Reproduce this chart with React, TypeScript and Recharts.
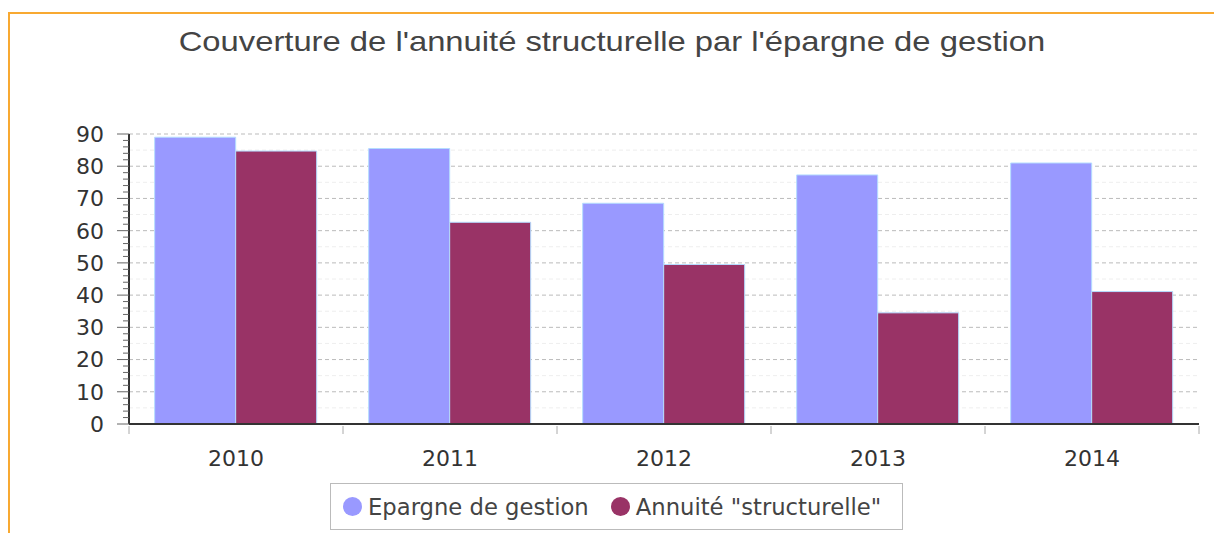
import React from 'react';
import {
  BarChart,
  Bar,
  XAxis,
  YAxis,
  CartesianGrid,
  Legend,
} from 'recharts';

const years = ['2010', '2011', '2012', '2013', '2014'];
const epargne = [89, 85.5, 68.5, 77.3, 81];
const annuite = [84.7, 62.6, 49.5, 34.5, 41.1];

const majorTicks = [0, 10, 20, 30, 40, 50, 60, 70, 80, 90];
const halfTicks = [5, 15, 25, 35, 45, 55, 65, 75, 85];
const minorTicks = Array.from({ length: 46 }, (_, i) => i * 2);

const BLUE = '#9999ff';
const PURPLE = '#993366';
const FONT = '"DejaVu Sans", Verdana, sans-serif';

const data = years.map((year, i) => ({
  year,
  epargne: epargne[i],
  annuite: annuite[i],
}));

function YTick(props: any) {
  const { x, y, payload } = props;
  const isMajor = payload.value % 10 === 0;
  return (
    <g>
      <line x1={x - (isMajor ? 12 : 6)} x2={x} y1={y} y2={y} stroke="#666" strokeWidth={1} />
      {isMajor && (
        <text x={x - 25} y={y} dy="0.36em" textAnchor="end" fill="#333" fontSize={22} fontFamily={FONT}>
          {payload.value}
        </text>
      )}
    </g>
  );
}

function XTick(props: any) {
  const { x, y, payload, index } = props;
  const half = payload.offset ?? 107;
  const last = index === years.length - 1;
  return (
    <g>
      <line x1={x - half} x2={x - half} y1={y + 2} y2={y + 10} stroke="#aaa" strokeWidth={1} />
      {last && <line x1={x + half} x2={x + half} y1={y + 2} y2={y + 10} stroke="#aaa" strokeWidth={1} />}
      <text x={x} y={y + 42} textAnchor="middle" fill="#333" fontSize={22} fontFamily={FONT}>
        {payload.value}
      </text>
    </g>
  );
}

function LegendBox() {
  const items = [
    { label: 'Epargne de gestion', color: BLUE },
    { label: 'Annuité "structurelle"', color: PURPLE },
  ];
  return (
    <div
      style={{
        display: 'flex',
        alignItems: 'center',
        width: 573,
        height: 47,
        padding: '0 0 0 12px',
        border: '1px solid #bbb',
        background: '#fff',
        fontFamily: FONT,
        fontSize: 22.7,
        color: '#444',
        boxSizing: 'border-box',
        whiteSpace: 'nowrap',
      }}
    >
      {items.map((it, i) => (
        <span key={i} style={{ display: 'inline-flex', alignItems: 'center', marginLeft: i ? 22 : 0 }}>
          <span
            style={{
              display: 'inline-block',
              width: 19,
              height: 19,
              borderRadius: '50%',
              background: it.color,
              marginRight: 6,
            }}
          />
          {it.label}
        </span>
      ))}
    </div>
  );
}

export default function App() {
  return (
    <div style={{ position: 'absolute', left: 0, top: 0, width: 1214, height: 533, background: '#fff', overflow: 'hidden' }}>
      <div
        style={{
          position: 'absolute',
          left: 8,
          top: 12,
          width: 1220,
          height: 540,
          borderTop: '2px solid #f8a931',
          borderLeft: '2px solid #f8a931',
        }}
      />
      <div
        style={{
          position: 'absolute',
          left: 0,
          top: 26,
          width: 1224,
          textAlign: 'center',
          fontFamily: '"Liberation Sans", Arial, sans-serif',
          fontSize: 28,
          color: '#444',
          transform: 'scaleX(1.17)',
          transformOrigin: '612px 0',
        }}
      >
        Couverture de l'annuité structurelle par l'épargne de gestion
      </div>
      <div style={{ position: 'absolute', left: 0, top: 0 }}>
        <BarChart
          width={1214}
          height={533}
          data={data}
          margin={{ top: 134, right: 15, bottom: 3, left: 69 }}
          barCategoryGap="12%"
          barGap={0}
        >
          <CartesianGrid horizontal vertical={false} horizontalValues={halfTicks} stroke="#eee" strokeDasharray="4 3" />
          <CartesianGrid horizontal vertical={false} horizontalValues={majorTicks} stroke="#bbb" strokeDasharray="4 3" />
          <XAxis
            dataKey="year"
            height={59}
            tickSize={0}
            tickMargin={0}
            tickLine={false}
            interval={0}
            tick={<XTick />}
            axisLine={{ stroke: '#333', strokeWidth: 2 }}
          />
          <YAxis
            width={60}
            domain={[0, 90]}
            ticks={minorTicks}
            interval={0}
            tickSize={0}
            tickMargin={0}
            tickLine={false}
            tick={<YTick />}
            axisLine={{ stroke: '#333', strokeWidth: 2 }}
            allowDataOverflow
          />
          <Legend verticalAlign="bottom" align="center" content={<LegendBox />} wrapperStyle={{ left: 330, width: 573 }} />
          <Bar dataKey="epargne" name="Epargne de gestion" fill={BLUE} stroke="#b5dcff" strokeWidth={1} isAnimationActive={false} />
          <Bar dataKey="annuite" name='Annuité "structurelle"' fill={PURPLE} stroke="#b5dcff" strokeWidth={1} isAnimationActive={false} />
        </BarChart>
      </div>
    </div>
  );
}
